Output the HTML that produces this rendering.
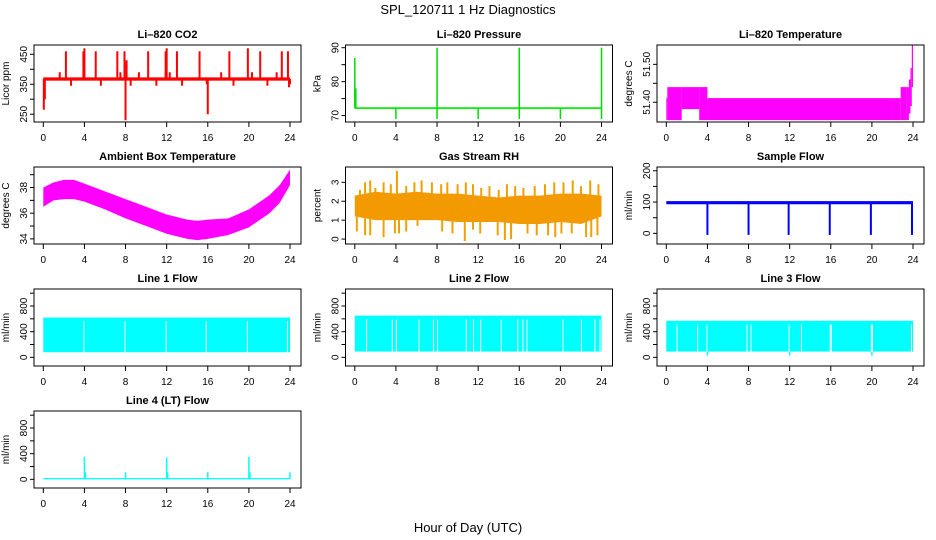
<!DOCTYPE html>
<html><head><meta charset="utf-8"><style>
html,body{margin:0;padding:0;background:#fff;}
svg{display:block;font-family:"Liberation Sans",Arial,sans-serif;}
</style></head><body>
<svg id="chart" width="936" height="540" viewBox="0 0 936 540" xmlns="http://www.w3.org/2000/svg">
<text x="468" y="14" font-size="13" text-anchor="middle">SPL_120711  1 Hz Diagnostics</text>
<text x="468" y="532" font-size="13" text-anchor="middle">Hour of Day (UTC)</text>
</svg>
<script>
// ---- data ----
const xTicks = [0,4,8,12,16,20,24];
const co2BandLo = 362, co2BandHi = 373;
const co2SpikeHours = [0.05,0.15,1.6,2.2,2.7,3.9,4.0,5.1,5.6,7.2,7.5,7.9,8.0,8.1,8.5,9.3,10.2,11.0,11.9,12.0,12.3,13.0,13.5,15.2,15.9,16.0,17.3,18.1,18.5,19.9,20.3,21.1,21.8,22.7,23.2,23.8,23.9,24.0];
const co2SpikeVals = [265,300,390,460,345,460,470,460,345,460,390,460,230,430,345,390,460,345,460,470,390,460,345,460,350,250,390,460,345,470,390,460,345,390,460,460,340,350];
const presBase = 72.2;
const presSpikeHours = [0.0,0.1,4.0,8.0,8.0,12.0,16.0,16.0,20.0,24.0,24.0];
const presSpikeVals = [87,78,69,90,69,69,90,69,69,90,69];
const ltHours = [0,0.1,1.5,3.2,4.0,22.0,22.8,23.4,23.6,23.75,23.88,24.0];
const ltLo = [51.353,51.353,51.382,51.353,51.353,51.353,51.353,51.353,51.37,51.39,51.44];
const ltHi = [51.411,51.44,51.44,51.44,51.411,51.411,51.44,51.44,51.46,51.49,51.55];
const ambHours = [0,1,2,3,4,6,8,10,12,14,15,16,18,20,22,23,24];
const ambLo = [36.5,37.0,37.1,37.1,36.9,36.3,35.6,35.0,34.4,34.0,33.9,34.0,34.3,34.9,36.0,36.8,38.2];
const ambHi = [38.0,38.4,38.6,38.6,38.3,37.7,37.1,36.5,35.9,35.5,35.4,35.5,35.6,36.3,37.4,38.2,39.4];
const rhHours = [0,2,4,6,8,10,12,14,16,18,20,22,24];
const rhLo = [1.2,1.0,1.0,1.0,1.0,0.9,0.9,0.9,0.8,0.8,0.9,0.8,1.2];
const rhHi = [2.3,2.5,2.4,2.5,2.4,2.4,2.3,2.2,2.3,2.3,2.4,2.4,2.3];
const rhUpHours = [0.5,1.0,1.5,2.0,2.8,3.5,4.1,5.0,5.8,6.5,7.5,8.4,9.0,10.0,10.8,11.5,12.3,13.1,14.0,14.8,15.6,16.4,17.5,18.5,19.4,20.3,21.2,22.0,22.9,23.7];
const rhUpVals = [2.6,3.0,3.1,2.7,3.0,2.9,3.6,2.8,3.0,3.1,3.0,2.9,3.0,2.9,3.0,2.9,2.7,2.8,2.6,2.9,2.8,2.7,2.8,2.9,3.0,3.0,3.1,2.8,3.1,2.9];
const rhDnHours = [0.2,1.0,1.5,2.8,3.9,4.3,5.0,6.1,8.5,9.5,10.7,11.5,12.2,13.9,14.6,15.2,16.8,17.7,18.8,19.5,20.1,21.1,22.5,23.0,23.6];
const rhDnVals = [0.4,0.2,0.2,0.1,0.3,0.3,0.4,0.7,0.4,0.3,-0.1,0.5,0.3,0.2,-0.05,0.0,0.3,0.2,0.2,0.1,0.3,0.3,0.1,0.1,0.2];
const sfBandLo = 93, sfBandHi = 103;
const sfDipHours = [4.0,8.0,11.9,15.9,19.9,23.9];
const sfDipVals = [-5,-5,-5,-5,-5,-5];
const l1Lo = 80, l1Hi = 620;
const l1Gaps = [3.9,7.9,11.9,15.8,19.8,23.7];
const l2Lo = 90, l2Hi = 650;
const l2Gaps = [1.1,3.6,4.0,6.2,7.6,8.0,10.8,11.5,12.2,14.2,15.8,16.3,16.7,20.2,22.0,23.3,23.8];
const l3Lo = 90, l3Hi = 570;
const l3Gaps = [1.0,3.0,3.9,7.8,8.2,11.9,13.1,15.9,16.0,19.9,20.0,23.8];
const l3DipHours = [4.0,12.0,20.0];
const l3DipVals = [30,30,30];
const l4BandLo = 0, l4BandHi = 20;
const l4SpikeHours = [4.0,4.1,8.0,12.0,12.1,16.0,20.0,20.1,24.0];
const l4SpikeVals = [350,110,110,340,110,110,350,110,110];

// ---- layout ----
const svg = document.getElementById('chart');
const NS = 'http://www.w3.org/2000/svg';
const colL = [34, 345.5, 657], rowT = [45, 167, 289, 411], BW = 267, BH = 77;
function mk(tag, attrs, parent){const e=document.createElementNS(NS,tag);for(const k in attrs)e.setAttribute(k,attrs[k]);(parent||svg).appendChild(e);return e;}
function panel(col,row,name,title,ylab,ymin,ymax,ticks,labels){
  const L=colL[col],T=rowT[row];
  const g=mk('g',{});
  
  
  const xs=h=>L+9.3+h*10.28;
  const ys=v=>T+(ymax-v)/(ymax-ymin)*BH;
  const plot=mk('g',{},g);
  
  
  const box=mk('rect',{x:L,y:T,width:BW,height:BH,fill:'none',stroke:'#000','stroke-width':1},g);
  
  
  const t=mk('text',{x:L+BW/2,y:T-7,'font-size':11,'font-weight':'bold','text-anchor':'middle'},g);
  t.textContent=title;
  
  
  const xa=mk('g',{},g);
  
  
  mk('line',{x1:xs(0),x2:xs(24),y1:T+BH,y2:T+BH,stroke:'#000'},xa);
  xTicks.forEach(h=>{mk('line',{x1:xs(h),x2:xs(h),y1:T+BH,y2:T+BH+5,stroke:'#000'},xa);
    const tx=mk('text',{x:xs(h),y:T+BH+19,'font-size':10,'text-anchor':'middle'},xa);tx.textContent=h;});
  const ya=mk('g',{},g);
  
  
  mk('line',{x1:L,x2:L,y1:ys(ticks[0]),y2:ys(ticks[ticks.length-1]),stroke:'#000'},ya);
  ticks.forEach((v,i)=>{mk('line',{x1:L-4,x2:L,y1:ys(v),y2:ys(v),stroke:'#000'},ya);
    if(labels[i]!==''){const tx=mk('text',{x:0,y:0,'font-size':10,'text-anchor':'middle',transform:`translate(${L-7},${ys(v)}) rotate(-90)`},ya);tx.textContent=labels[i];}});
  const yl=mk('text',{x:0,y:0,'font-size':10,'text-anchor':'middle',transform:`translate(${L-25},${T+BH/2}) rotate(-90)`},g);
  yl.textContent=ylab;
  
  
  return {xs,ys,plot};
}
function band(p,h0,h1,lo,hi,fill){return mk('rect',{x:p.xs(h0),y:p.ys(hi),width:Math.max(1,p.xs(h1)-p.xs(h0)),height:Math.max(1,p.ys(lo)-p.ys(hi)),fill:fill},p.plot);}
function spike(p,h,v0,v1,col,w){return mk('line',{x1:p.xs(h),x2:p.xs(h),y1:p.ys(v0),y2:p.ys(v1),stroke:col,'stroke-width':w||1.5},p.plot);}
function env(p,hours,lo,hi,fill){
  let pts=hours.map((h,i)=>p.xs(h)+','+p.ys(hi[i]));
  pts=pts.concat(hours.slice().reverse().map((h,i)=>p.xs(h)+','+p.ys(lo[hours.length-1-i])));
  return mk('polygon',{points:pts.join(' '),fill:fill},p.plot);
}

// CO2
let p=panel(0,0,'co2','Li\u2013820 CO2','Licor ppm',224,481,[250,300,350,400,450],['250','','350','','450']);
band(p,0,24,co2BandLo,co2BandHi,'#ff0000');
co2SpikeHours.forEach((h,i)=>spike(p,h,368,co2SpikeVals[i],'#ff0000',2));
// Pressure
p=panel(1,0,'pressure','Li\u2013820 Pressure','kPa',68.1,90.8,[70,75,80,85,90],['70','','80','','90']);
band(p,0,24,presBase-0.25,presBase+0.25,'#00ee00');
presSpikeHours.forEach((h,i)=>spike(p,h,presBase,presSpikeVals[i],'#00dd00',1.5));
// Li temp
p=panel(2,0,'licor-temp','Li\u2013820 Temperature','degrees C',51.348,51.551,[51.40,51.45,51.50],['51.40','','51.50']);
for(let i=0;i<ltHours.length-1;i++)band(p,ltHours[i],ltHours[i+1],ltLo[i],ltHi[i],'#ff00ff');
// Ambient
p=panel(0,1,'ambient-temp','Ambient Box Temperature','degrees C',33.6,39.6,[34,35,36,37,38,39],['34','','36','','38','']);
env(p,ambHours,ambLo,ambHi,'#ff00ff');
// RH
p=panel(1,1,'gas-rh','Gas Stream RH','percent',-0.26,3.81,[0,1,2,3],['0','1','2','3']);
rhUpHours.forEach((h,i)=>spike(p,h,1.8,rhUpVals[i],'#f2a000',2));
rhDnHours.forEach((h,i)=>spike(p,h,1.2,rhDnVals[i],'#f2a000',2));
env(p,rhHours,rhLo,rhHi,'#f39a00');
// Sample flow
p=panel(2,1,'sample-flow','Sample Flow','ml/min',-34,212,[0,50,100,150,200],['0','','100','','200']);
band(p,0,24,sfBandLo,sfBandHi,'#0000ff');
sfDipHours.forEach((h,i)=>spike(p,h,98,sfDipVals[i],'#0000ff',2));
// Line flows
const fT=[0,200,400,600,800,1000], fL=['0','','400','','800',''];
function lineFlow(col,row,name,title,lo,hi,gaps){
  const q=panel(col,row,name,title,'ml/min',-135,1065,fT,fL);
  band(q,0,24,lo,hi,'#00ffff');
  gaps.forEach(h=>{band(q,h,h+0.08,lo-5,hi-60,'#ffffff');});
  return q;
}
lineFlow(0,2,'line1-flow','Line 1 Flow',l1Lo,l1Hi,l1Gaps);
lineFlow(1,2,'line2-flow','Line 2 Flow',l2Lo,l2Hi,l2Gaps);
p=lineFlow(2,2,'line3-flow','Line 3 Flow',l3Lo,l3Hi,l3Gaps);
l3DipHours.forEach((h,i)=>spike(p,h,l3Lo,l3DipVals[i],'#00ffff',1.5));
p=panel(0,3,'line4-flow','Line 4 (LT) Flow','ml/min',-135,1065,fT,fL);
band(p,0,24,l4BandLo,l4BandHi,'#00ffff');
l4SpikeHours.forEach((h,i)=>spike(p,h,10,l4SpikeVals[i],'#00ffff',1.5));
</script>
</body></html>
